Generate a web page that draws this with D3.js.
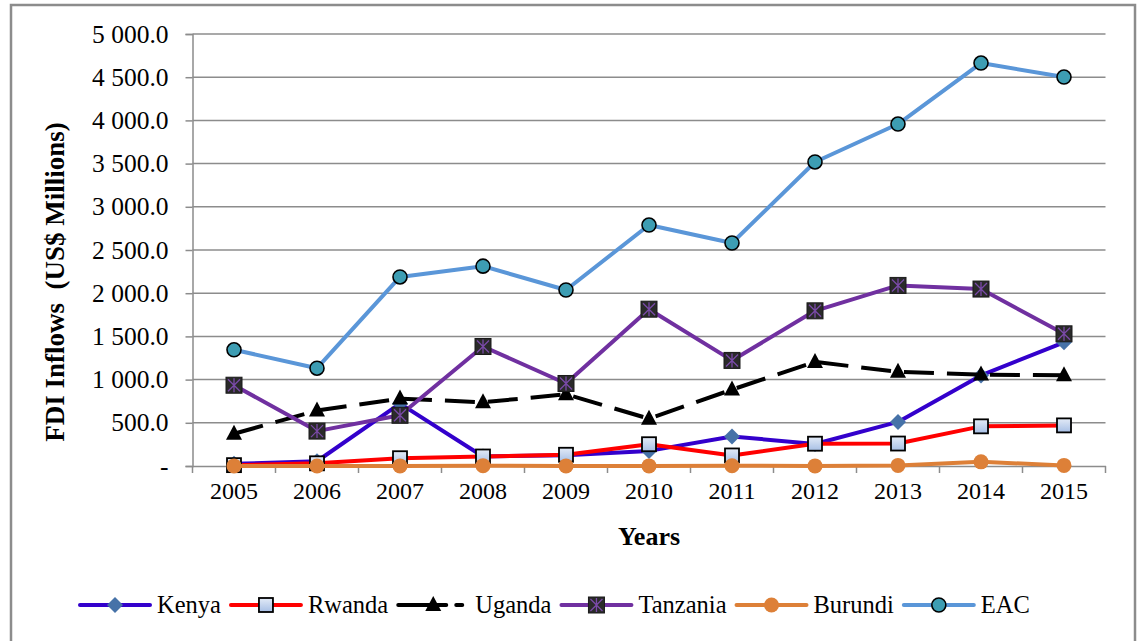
<!DOCTYPE html>
<html lang="en">

<head>
    <meta charset="UTF-8">
    <title>FDI Inflows EAC</title>
    <script src="https://cdn.jsdelivr.net/npm/d3@7"></script>
</head>

<body>
    <script>
        // data (US$ millions)
        const years = ["2005", "2006", "2007", "2008", "2009", "2010", "2011", "2012", "2013", "2014", "2015"];
        const kenya = [25, 55, 722, 110, 125, 175, 342, 255, 510, 1048, 1432];
        const rwanda = [10, 31, 90, 110, 130, 252, 122, 258, 260, 459, 470];
        const uganda = [373, 642, 780, 738, 830, 548, 884, 1205, 1090, 1058, 1050];
        const tanzania = [935, 404, 587, 1383, 955, 1815, 1222, 1796, 2090, 2048, 1530];
        const burundi = [1, 0, 1, 4, 1, 1, 3, 1, 7, 48, 7];
        const eac = [1345, 1132, 2188, 2313, 2037, 2789, 2581, 3519, 3958, 4664, 4502];
        const yTicks = [0, 500, 1000, 1500, 2000, 2500, 3000, 3500, 4000, 4500, 5000];

        const series = [
            { name: "Kenya", values: kenya, color: "#3300cc", marker: "diamond" },
            { name: "Rwanda", values: rwanda, color: "#ff0000", marker: "square" },
            { name: "Uganda", values: uganda, color: "#000000", marker: "triangle", dash: "30,13" },
            { name: "Tanzania", values: tanzania, color: "#7030a0", marker: "xsquare" },
            { name: "Burundi", values: burundi, color: "#dd8038", marker: "circle" },
            { name: "EAC", values: eac, color: "#5a96d8", marker: "ring" }
        ];

        const width = 1140, height = 641;

        const svg = d3.select("body").append("svg")
            .attr("width", width).attr("height", height);

        const defs = svg.append("defs");
        const grad = defs.append("linearGradient").attr("id", "sqfill")
            .attr("x1", 0).attr("y1", 0).attr("x2", 0).attr("y2", 1);
        grad.append("stop").attr("offset", "0%").attr("stop-color", "#e3ebf7");
        grad.append("stop").attr("offset", "100%").attr("stop-color", "#a7bfe5");

        // outer frame
        svg.append("rect")
            .attr("x", 11).attr("y", 5)
            .attr("width", 1124).attr("height", 650)
            .attr("fill", "white").attr("stroke", "#8c8c8c").attr("stroke-width", 2.5);

        const x = d3.scaleBand().domain(years).range([192.5, 1105.5]);
        const y = d3.scaleLinear().domain([0, 5000]).range([466, 34]);
        const cx = d => x(d) + x.bandwidth() / 2;

        // gridlines
        svg.append("g")
            .selectAll("line")
            .data(yTicks.slice(1))
            .join("line")
            .attr("x1", 192.5).attr("x2", 1105.5)
            .attr("y1", d => y(d)).attr("y2", d => y(d))
            .attr("stroke", "#8c8c8c").attr("stroke-width", 1.5);

        // "5 000.0" style, zero shown as a dash
        const fmt = v => v === 0 ? "-" : d3.format(",.1f")(v).replace(",", "\u00a0");

        const yAxis = svg.append("g")
            .attr("transform", "translate(192.5,0)")
            .call(d3.axisLeft(y).tickValues(yTicks).tickFormat(fmt).tickSize(7).tickPadding(17));
        yAxis.select(".domain").attr("stroke", "#8c8c8c").attr("stroke-width", 1.5);
        yAxis.selectAll(".tick line").attr("stroke", "#8c8c8c").attr("stroke-width", 1.5);
        yAxis.selectAll("text").attr("font-size", 25.5).attr("fill", "#000");

        const xAxis = svg.append("g")
            .attr("transform", "translate(0,466)")
            .call(d3.axisBottom(x).tickSize(0).tickPadding(16));
        xAxis.select(".domain").attr("stroke", "#8c8c8c").attr("stroke-width", 1.5);
        xAxis.selectAll("text").attr("font-size", 24).attr("fill", "#000");
        // category boundary ticks
        xAxis.append("g")
            .selectAll("line")
            .data(d3.range(years.length + 1))
            .join("line")
            .attr("x1", i => 192.5 + i * x.step()).attr("x2", i => 192.5 + i * x.step())
            .attr("y1", 0).attr("y2", 7)
            .attr("stroke", "#8c8c8c").attr("stroke-width", 1.5);

        // axis titles
        svg.append("text")
            .attr("transform", "translate(64,282) rotate(-90)")
            .attr("text-anchor", "middle")
            .attr("font-size", 27).attr("font-weight", "bold")
            .attr("xml:space", "preserve")
            .text("FDI Inflows  (US$ Millions)");

        svg.append("text")
            .attr("x", 649).attr("y", 545)
            .attr("text-anchor", "middle")
            .attr("font-size", 26).attr("font-weight", "bold")
            .text("Years");

        function drawMarker(g, s, px, py) {
            if (s.marker === "diamond") {
                g.append("path").attr("d", `M${px},${py - 8}L${px + 8},${py}L${px},${py + 8}L${px - 8},${py}Z`)
                    .attr("fill", "#4672a8");
            } else if (s.marker === "square") {
                g.append("rect").attr("x", px - 7).attr("y", py - 7).attr("width", 14).attr("height", 14)
                    .attr("fill", "url(#sqfill)").attr("stroke", "#000").attr("stroke-width", 1.8);
            } else if (s.marker === "triangle") {
                g.append("path").attr("d", `M${px},${py - 9}L${px + 8},${py + 6}L${px - 8},${py + 6}Z`)
                    .attr("fill", "#000");
            } else if (s.marker === "xsquare") {
                g.append("rect").attr("x", px - 8).attr("y", py - 8).attr("width", 16).attr("height", 16)
                    .attr("fill", "#2a2a2a").attr("stroke", "#1a1a1a").attr("stroke-width", 1);
                g.append("path")
                    .attr("d", `M${px - 6},${py - 6}L${px + 6},${py + 6}M${px + 6},${py - 6}L${px - 6},${py + 6}M${px},${py - 7}L${px},${py + 7}`)
                    .attr("stroke", "#7a4aa8").attr("stroke-width", 1.3);
            } else if (s.marker === "circle") {
                g.append("circle").attr("cx", px).attr("cy", py).attr("r", 7.5).attr("fill", s.color);
            } else if (s.marker === "ring") {
                g.append("circle").attr("cx", px).attr("cy", py).attr("r", 7)
                    .attr("fill", "#3d9db3").attr("stroke", "#000").attr("stroke-width", 1.6);
            }
        }

        const line = d3.line().x((d, i) => cx(years[i])).y(d => y(d));

        series.forEach(s => {
            const g = svg.append("g");
            g.append("path")
                .datum(s.values)
                .attr("d", line)
                .attr("fill", "none")
                .attr("stroke", s.color)
                .attr("stroke-width", 4)
                .attr("stroke-linejoin", "round")
                .attr("stroke-dasharray", s.dash || null);
            s.values.forEach((v, i) => drawMarker(g, s, cx(years[i]), y(v)));
        });

        // legend
        const legend = svg.append("g");
        let lx = 80;
        const ly = 605;
        series.forEach(s => {
            const g = legend.append("g");
            g.append("line")
                .attr("x1", lx).attr("x2", lx + 70).attr("y1", ly).attr("y2", ly)
                .attr("stroke", s.color).attr("stroke-width", 4)
                .attr("stroke-linecap", "round")
                .attr("stroke-dasharray", s.dash ? "48,10,6,20" : null);
            drawMarker(g, s, lx + 35, ly);
            const t = g.append("text")
                .attr("x", lx + 77).attr("y", ly + 8)
                .attr("font-size", 24.5)
                .text(s.name);
            lx += 77 + t.node().getComputedTextLength() + 10;
        });
    </script>
    <style>
        * {
            margin: 0;
            padding: 0;
        }

        svg text {
            font-family: "Liberation Serif", serif;
        }
    </style>
</body>

</html>
